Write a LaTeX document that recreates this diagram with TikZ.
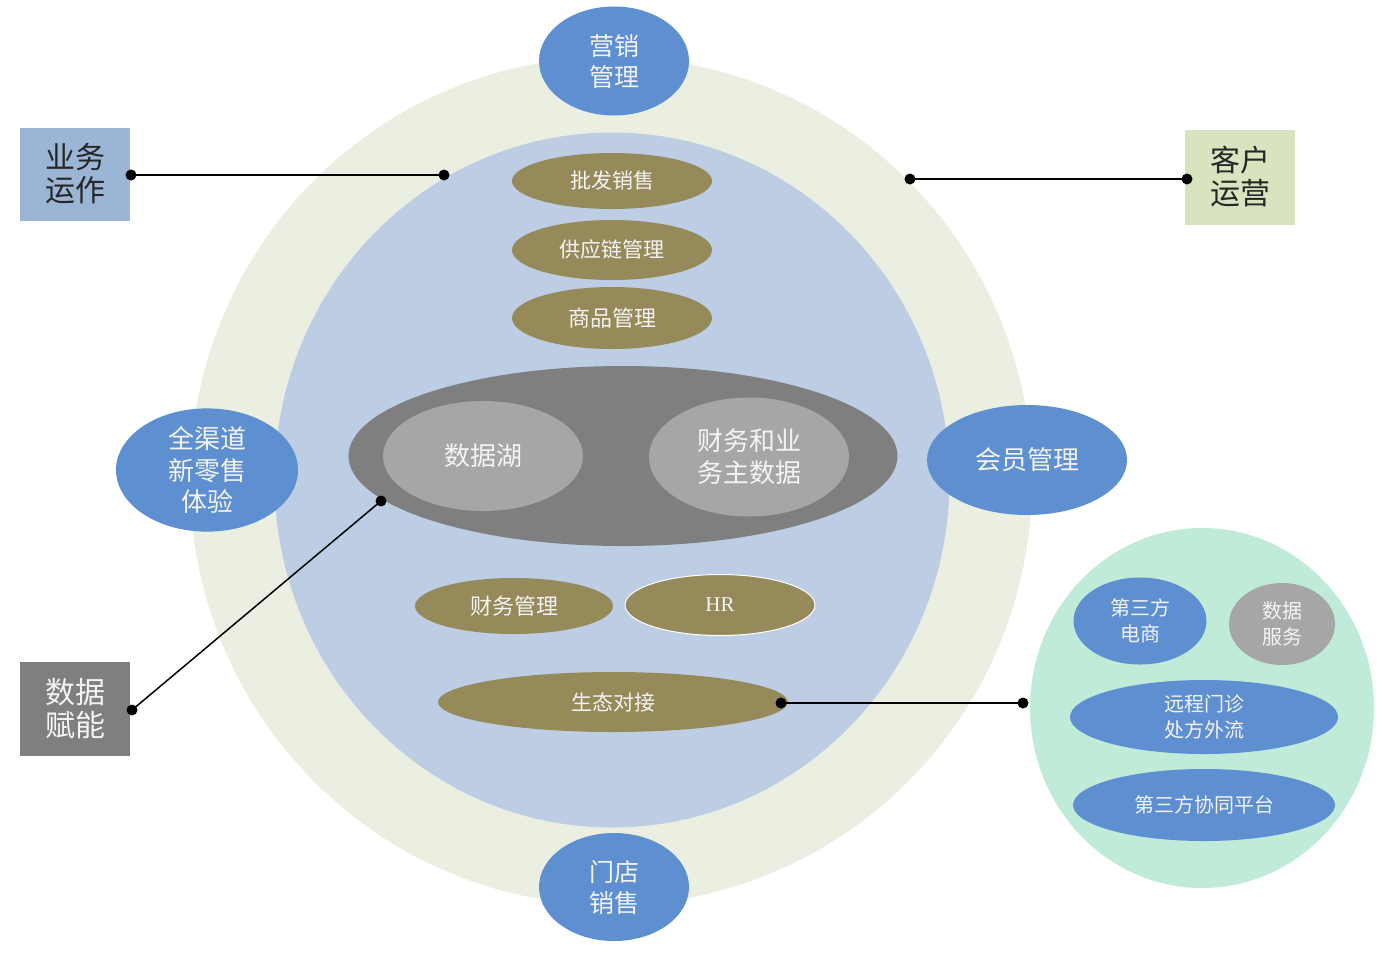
\documentclass[tikz,border=0pt]{standalone}
\usepackage{fontspec}
\newfontfamily\cjk{Noto Sans CJK SC}
\newfontfamily\serifhr{Liberation Serif}
\usetikzlibrary{shapes.geometric}
\definecolor{outerC}{HTML}{EBEFE1}
\definecolor{innerC}{HTML}{BCCDE4}
\definecolor{grayD}{HTML}{7F7F7F}
\definecolor{grayL}{HTML}{A6A6A6}
\definecolor{oliveC}{HTML}{968A5A}
\definecolor{blueE}{HTML}{5E8FD0}
\definecolor{boxA}{HTML}{9BB5D6}
\definecolor{boxB}{HTML}{D8E4BF}
\definecolor{greenC}{HTML}{BFEBD8}
\definecolor{txtL}{HTML}{F4F4F4}
\definecolor{txtD}{HTML}{262626}
\tikzset{
  ell/.style={ellipse, inner sep=0pt, align=center, text=txtL},
  olive/.style={ell, fill=oliveC, font=\cjk\fontsize{21}{26}\selectfont},
  blueell/.style={ell, fill=blueE},
  sqbox/.style={rectangle, inner sep=0pt, align=center, minimum width=110pt, minimum height=93pt, font=\cjk\fontsize{30}{33}\selectfont},
  conn/.style={draw=black, line width=1.5pt},
  dotc/.style={circle, fill=black, inner sep=0pt, minimum size=11pt},
}
\begin{document}
\begin{tikzpicture}[x=1pt,y=-1pt]
\useasboundingbox (0,0) rectangle (1388,962);
% big circles
\node[ellipse, fill=outerC, minimum width=842pt, minimum height=848pt, inner sep=0pt] (outer) at (611,481) {};
\node[ellipse, fill=innerC, minimum width=675pt, minimum height=695pt, inner sep=0pt] (inner) at (612,480) {};
% central gray
\node[ell, fill=grayD, minimum width=549pt, minimum height=180pt] (core) at (623,456) {};
\node[ell, fill=grayL, minimum width=200pt, minimum height=110pt, font=\cjk\fontsize{26}{32}\selectfont] (lake) at (483,456) {数据湖};
\node[ell, fill=grayL, minimum width=200pt, minimum height=119pt, font=\cjk\fontsize{26}{32}\selectfont] (mdm) at (749,457) {财务和业\\务主数据};
% olive
\node[olive, minimum width=200pt, minimum height=56pt] (pf) at (612,181) {批发销售};
\node[olive, minimum width=200pt, minimum height=60pt] (gy) at (612,250) {供应链管理};
\node[olive, minimum width=200pt, minimum height=62pt, font=\cjk\fontsize{22}{26}\selectfont] (sp) at (612,318) {商品管理};
\node[olive, minimum width=198pt, minimum height=56pt, font=\cjk\fontsize{22}{26}\selectfont] (cw) at (514,606) {财务管理};
\node[olive, draw=white, line width=1pt, minimum width=190pt, minimum height=61pt, font=\serifhr\fontsize{21}{24}\selectfont] (hr) at (720,605) {HR};
\node[olive, minimum width=350pt, minimum height=60pt] (st) at (613,702) {生态对接};
% blue ring ellipses
\node[blueell, minimum width=150pt, minimum height=109pt, font=\cjk\fontsize{25}{31}\selectfont] (yx) at (614,61) {营销\\管理};
\node[blueell, minimum width=150pt, minimum height=108pt, font=\cjk\fontsize{25}{31}\selectfont] (md) at (614,887) {门店\\销售};
\node[blueell, minimum width=200pt, minimum height=110pt, font=\cjk\fontsize{26}{32}\selectfont] (hy) at (1027,460) {会员管理};
\node[blueell, minimum width=182pt, minimum height=99pt, font=\cjk\fontsize{26}{31.5}\selectfont] (qq) at (207,470) {全渠道\\新零售\\体验};
% side boxes
\node[sqbox, fill=boxA, text=txtD] (yw) at (75,174) {业务\\运作};
\node[sqbox, fill=boxB, text=txtD, minimum height=95pt] (kh) at (1240,177) {客户\\运营};
\node[sqbox, fill=grayD, text=txtL, minimum height=94pt] (sj) at (75,709) {数据\\赋能};
% right group
\node[ellipse, fill=greenC, minimum width=344pt, minimum height=360pt, inner sep=0pt] (eco) at (1202,708) {};
\node[blueell, minimum width=133pt, minimum height=87pt, font=\cjk\fontsize{20}{26}\selectfont] (ds) at (1140,621) {第三方\\电商};
\node[ell, fill=grayL, minimum width=106pt, minimum height=82pt, font=\cjk\fontsize{20}{26}\selectfont] (fw) at (1282,624) {数据\\服务};
\node[blueell, minimum width=268pt, minimum height=74pt, font=\cjk\fontsize{20}{26}\selectfont] (yc) at (1204,717) {远程门诊\\处方外流};
\node[blueell, minimum width=262pt, minimum height=72pt, font=\cjk\fontsize{20}{26}\selectfont] (xt) at (1204,805) {第三方协同平台};
% connectors
\coordinate (c1) at (444,175);
\coordinate (c2) at (910,179);
\coordinate (c3) at (381,501);
\coordinate (c4) at (781,703);
\coordinate (c5) at (1023,703);
\coordinate (yw0) at (131,175);
\coordinate (kh0) at (1187,179);
\coordinate (sj0) at (132,710);
\draw[conn] (yw0) -- (c1);
\draw[conn] (c2) -- (kh0);
\draw[conn] (sj0) -- (c3);
\draw[conn] (c4) -- (c5);
\foreach \p in {c1,c2,c3,c4,c5,yw0,kh0,sj0} \node[dotc] at (\p) {};
\end{tikzpicture}
\end{document}
